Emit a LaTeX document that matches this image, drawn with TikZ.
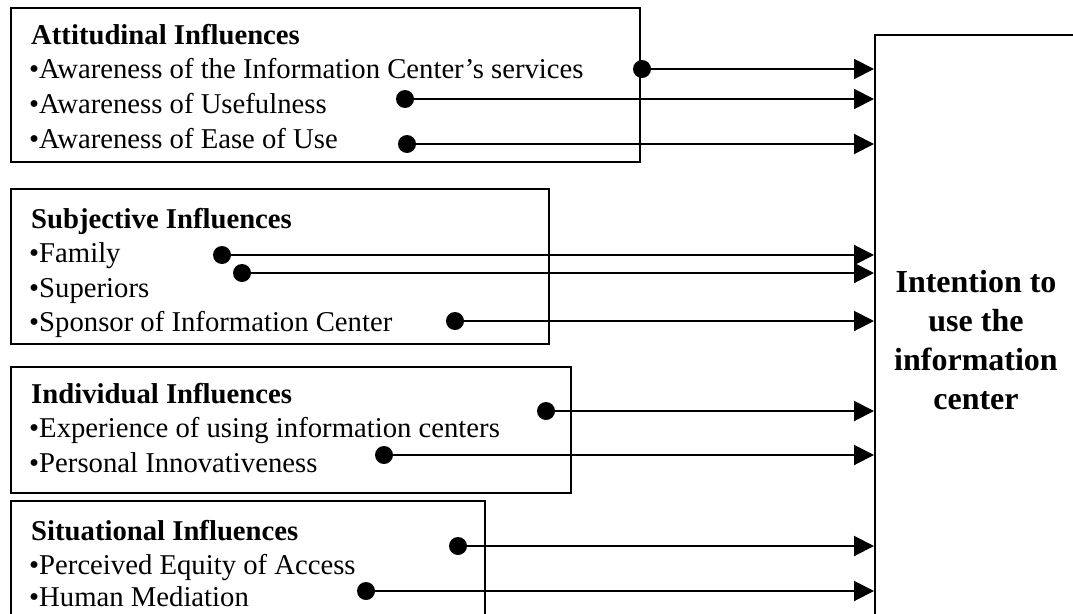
\documentclass[tikz,border=0pt]{standalone}
\usepackage{fontspec}
\setmainfont{Liberation Serif}
\usetikzlibrary{arrows.meta}
\begin{document}
\begin{tikzpicture}[x=1pt,y=-1pt,
  frame/.style={draw, line width=2pt, inner sep=0pt, anchor=north west},
  item/.style={anchor=base west, inner sep=0pt, font=\fontsize{28.7}{34}\selectfont},
  head/.style={anchor=base west, inner sep=0pt, font=\fontsize{28.7}{34}\selectfont\bfseries},
  dot/.style={circle, fill, inner sep=0pt, minimum size=18pt},
  link/.style={line width=2pt, -{Triangle[length=20pt,width=20pt]}},
]
\useasboundingbox (0,0) rectangle (1073,613);
\begin{scope}
\clip (0,0) rectangle (1073,613);

% target construct
\node[frame, minimum width=230pt, minimum height=580pt] (intent) at (874,34) {};
\node[align=center, font=\fontsize{32}{39}\selectfont\bfseries] (intentlbl) at (976,340)
  {Intention to\\use the\\information\\center};

% attitudinal influences
\node[frame, minimum width=629pt, minimum height=154pt] (att) at (10,7) {};
\node[head] (atth) at (31,44) {Attitudinal Influences};
\node[item] (att1) at (29,78.5) {•Awareness of the Information Center’s services};
\node[item] (att2) at (29,113) {•Awareness of Usefulness};
\node[item] (att3) at (29,148) {•Awareness of Ease of Use};

% subjective influences
\node[frame, minimum width=538pt, minimum height=155pt] (sub) at (10,188) {};
\node[head] (subh) at (31,228) {Subjective Influences};
\node[item] (sub1) at (29,262) {•Family};
\node[item] (sub2) at (29,297) {•Superiors};
\node[item] (sub3) at (29,331) {•Sponsor of Information Center};

% individual influences
\node[frame, minimum width=560pt, minimum height=126pt] (ind) at (10,366) {};
\node[head] (indh) at (31,403) {Individual Influences};
\node[item] (ind1) at (29,437) {•Experience of using information centers};
\node[item] (ind2) at (29,472) {•Personal Innovativeness};

% situational influences
\node[frame, minimum width=474pt, minimum height=114pt] (sit) at (10,500) {};
\node[head] (sith) at (31,540) {Situational Influences};
\node[item] (sit1) at (29,574) {•Perceived Equity of Access};
\node[item] (sit2) at (29,606) {•Human Mediation};

% connector origins
\node[dot] (d1) at (642,69) {};
\node[dot] (d2) at (405,99) {};
\node[dot] (d3) at (407,144) {};
\node[dot] (d4) at (222,255) {};
\node[dot] (d5) at (242,273) {};
\node[dot] (d6) at (455,321) {};
\node[dot] (d7) at (546,411) {};
\node[dot] (d8) at (384,455) {};
\node[dot] (d9) at (458,546) {};
\node[dot] (d10) at (366,591) {};

\foreach \d in {d1,d2,d3,d4,d5,d6,d7,d8,d9,d10}
  \draw[link] (\d.center) -- (\d.center -| intent.west);
\end{scope}
\end{tikzpicture}
\end{document}
